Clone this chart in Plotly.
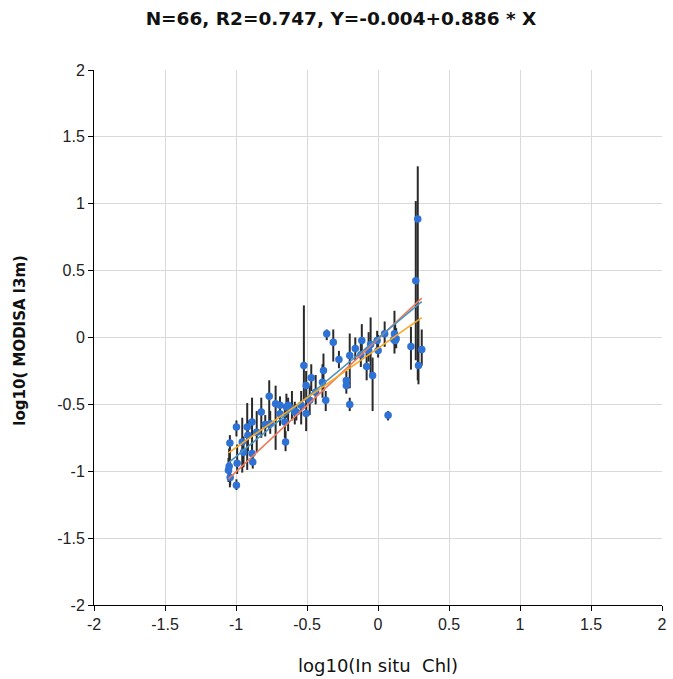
import plotly.graph_objects as go

# log10 in-situ chlorophyll (x) vs log10 MODISA L3m chlorophyll (y)
insitu_log = [
    -1.043, -1.048, -1.053, -1.041, -0.997, -0.997, -0.992, -0.956, -0.921, -0.887,
    -0.887, -0.882, -0.916, -0.822, -0.766, -0.759, -0.721, -0.690, -0.651, -0.645,
    -0.633, -0.656, -0.586, -0.575, -0.522, -0.506, -0.506, -0.384, -0.391, -0.368,
    -0.361, -0.315, -0.275, -0.199, -0.223, -0.223, -0.199, -0.121, -0.080, -0.038,
    -0.052, -0.006, 0.001, 0.047, 0.116, 0.128, 0.071, 0.121, 0.232, 0.308,
    0.285, 0.280, 0.266, 0.111, -0.470, -0.541, -0.481, -0.439, -0.794, -0.854,
    -0.947, -0.114, -0.066, -0.606, -0.690, -0.160,
]
modis_log = [
    -0.789, -0.963, -0.993, -1.047, -1.104, -0.669, -0.940, -0.781, -0.669, -0.632,
    -0.868, -0.931, -0.731, -0.557, -0.440, -0.644, -0.495, -0.507, -0.781, -0.520,
    -0.507, -0.632, -0.557, -0.557, -0.209, -0.358, -0.569, -0.246, -0.334, -0.470,
    0.028, -0.035, -0.164, -0.134, -0.321, -0.358, -0.500, -0.129, -0.216, -0.284,
    -0.052, -0.022, -0.097, 0.028, 0.028, -0.010, -0.582, -0.022, -0.067, -0.090,
    -0.209, 0.886, 0.425, -0.015, -0.300, -0.507, -0.470, -0.410, -0.651, -0.709,
    -0.858, -0.022, -0.097, -0.530, -0.570, -0.082,
]
# upper / lower extent of each MODISA value
modis_hi = [
    -0.73, -0.83, -0.90, -0.98, -1.06, -0.62, -0.80, -0.60, -0.49, -0.45,
    -0.78, -0.86, -0.62, -0.45, -0.32, -0.55, -0.36, -0.44, -0.70, -0.42,
    -0.45, -0.50, -0.48, -0.50, 0.24, -0.25, -0.45, -0.12, -0.20, -0.40,
    0.06, 0.06, -0.10, 0.03, -0.25, -0.30, -0.45, -0.03, -0.10, -0.15,
    0.15, 0.05, 0.02, 0.12, 0.20, 0.07, -0.55, 0.10, 0.08, 0.06,
    0.14, 1.28, 1.02, 0.03, -0.20, -0.40, -0.36, -0.28, -0.58, -0.55,
    -0.74, 0.10, 0.04, -0.40, -0.48, 0.00,
]
modis_lo = [
    -1.12, -1.05, -1.08, -1.10, -1.14, -0.74, -1.02, -1.01, -0.99, -0.90,
    -0.95, -0.98, -0.85, -0.75, -0.69, -0.72, -0.84, -0.62, -0.85, -0.60,
    -0.70, -0.75, -0.65, -0.62, -0.47, -0.45, -0.70, -0.40, -0.45, -0.55,
    -0.02, -0.18, -0.23, -0.38, -0.38, -0.42, -0.55, -0.22, -0.32, -0.55,
    -0.28, -0.12, -0.15, -0.07, -0.12, -0.08, -0.62, -0.08, -0.24, -0.21,
    -0.35, -0.32, -0.17, -0.05, -0.40, -0.65, -0.58, -0.50, -0.74, -0.86,
    -0.97, -0.12, -0.18, -0.62, -0.66, -0.17,
]

# fitted lines: (intercept, slope, colour)
fit_lines = [
    (-0.011, 0.993, "#f07a5c"),
    (-0.004, 0.886, "#4a93c0"),
    (-0.080, 0.743, "#f9a825"),
]

tick_vals = [-2, -1.5, -1, -0.5, 0, 0.5, 1, 1.5, 2]
tick_text = ["-2", "-1.5", "-1", "-0.5", "0", "0.5", "1", "1.5", "2"]

err_plus = [h - v for h, v in zip(modis_hi, modis_log)]
err_minus = [v - l for v, l in zip(modis_log, modis_lo)]

fig = go.Figure()
fig.add_trace(go.Scatter(
    x=insitu_log, y=modis_log, mode="markers",
    marker=dict(size=7.5, color="#2f72d6"),
    error_y=dict(type="data", symmetric=False, array=err_plus, arrayminus=err_minus,
                 color="#2a2a2a", thickness=2, width=0),
    showlegend=False,
))

x0, x1 = min(insitu_log), max(insitu_log)
for a, b, c in fit_lines:
    fig.add_trace(go.Scatter(
        x=[x0, x1], y=[a + b * x0, a + b * x1], mode="lines",
        line=dict(color=c, width=1.6), showlegend=False,
    ))

axis_common = dict(
    range=[-2, 2], tickvals=tick_vals, ticktext=tick_text,
    showgrid=True, gridcolor="#d9d9d9", gridwidth=1,
    zeroline=False, showline=True, linecolor="#000000", linewidth=1,
    ticks="outside", ticklen=5, tickcolor="#000000",
    tickfont=dict(family="Liberation Sans, Arial", size=16, color="#222222"),
)

fig.update_layout(
    width=673, height=679,
    margin=dict(l=94, r=6, t=70, b=74),
    paper_bgcolor="white", plot_bgcolor="white",
    xaxis=dict(**axis_common),
    yaxis=dict(**axis_common),
    title=dict(
        text="N=66, R2=0.747, Y=-0.004+0.886 * X",
        x=341 / 673, xanchor="center", y=1 - 19 / 679, yanchor="middle",
        font=dict(family="DejaVu Sans", size=18.5, color="#111111", weight="bold"),
    ),
    annotations=[
        dict(text="log10(In situ  Chl)", xref="paper", yref="paper",
             x=(381 - 94) / 573, y=(605 - 665) / 535, xanchor="center", yanchor="middle",
             showarrow=False, font=dict(family="DejaVu Sans", size=18, color="#111111")),
        dict(text="<b>log10( MODISA l3m)</b>", xref="paper", yref="paper",
             x=(19 - 94) / 573, y=(605 - 340) / 535, xanchor="center", yanchor="middle",
             textangle=-90, showarrow=False,
             font=dict(family="DejaVu Sans", size=15, color="#111111")),
    ],
)

fig.write_html("out.html")
